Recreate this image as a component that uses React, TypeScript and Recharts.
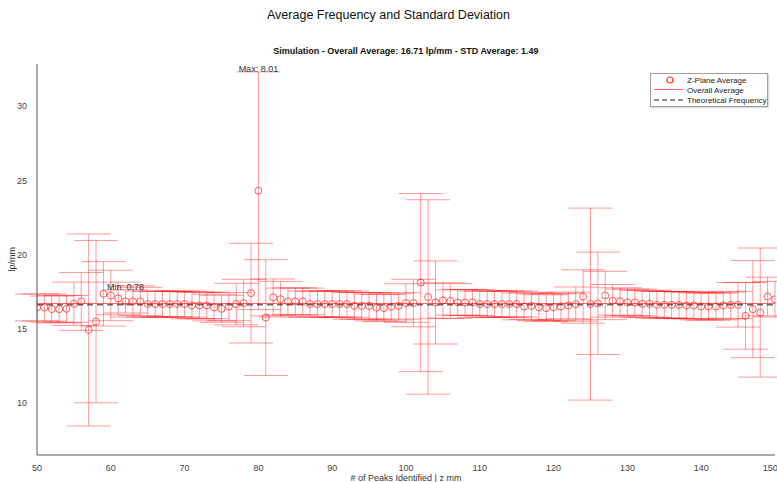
import React from 'react';
import {
  ComposedChart,
  Scatter,
  ErrorBar,
  XAxis,
  YAxis,
  ReferenceLine,
  ReferenceDot,
} from 'recharts';

// # of peaks identified (z position)
const peaks = [
  50, 51, 52, 53, 54, 55, 56, 57, 58, 59,
  60, 61, 62, 63, 64, 65, 66, 67, 68, 69,
  70, 71, 72, 73, 74, 75, 76, 77, 78, 79,
  80, 81, 82, 83, 84, 85, 86, 87, 88, 89,
  90, 91, 92, 93, 94, 95, 96, 97, 98, 99,
  100, 101, 102, 103, 104, 105, 106, 107, 108, 109,
  110, 111, 112, 113, 114, 115, 116, 117, 118, 119,
  120, 121, 122, 123, 124, 125, 126, 127, 128, 129,
  130, 131, 132, 133, 134, 135, 136, 137, 138, 139,
  140, 141, 142, 143, 144, 145, 146, 147, 148, 149,
  150,
];

// z-plane average frequency (lp/mm)
const zAverage = [
  16.44, 16.44, 16.33, 16.33, 16.35, 16.69, 16.85, 14.93, 15.49, 17.36,
  17.25, 17.05, 16.85, 16.85, 16.85, 16.67, 16.67, 16.67, 16.67, 16.67,
  16.67, 16.58, 16.58, 16.58, 16.44, 16.35, 16.5, 16.67, 16.74, 17.41,
  24.31, 15.76, 17.12, 17.0, 16.85, 16.85, 16.85, 16.67, 16.67, 16.67,
  16.67, 16.67, 16.67, 16.55, 16.55, 16.55, 16.44, 16.4, 16.5, 16.55,
  16.74, 16.74, 18.12, 17.15, 16.78, 16.91, 16.88, 16.78, 16.78, 16.78,
  16.67, 16.67, 16.67, 16.67, 16.67, 16.67, 16.51, 16.55, 16.46, 16.4,
  16.46, 16.51, 16.58, 16.67, 17.18, 16.67, 16.72, 17.25, 16.89, 16.85,
  16.78, 16.78, 16.69, 16.69, 16.62, 16.62, 16.62, 16.62, 16.58, 16.58,
  16.51, 16.51, 16.51, 16.58, 16.62, 16.62, 15.88, 16.33, 16.1, 17.18,
  17.0,
];

// standard deviation per z-plane
const zStd = [
  0.9, 0.92, 0.88, 0.93, 0.9, 1.46, 1.95, 6.47, 5.47, 2.17,
  1.7, 1.1, 0.78, 1.05, 0.95, 0.87, 0.88, 0.86, 0.87, 0.88,
  0.87, 0.9, 0.89, 0.9, 0.9, 0.91, 0.95, 1.4, 1.6, 3.36,
  8.01, 3.9, 1.24, 1.2, 0.9, 0.91, 0.9, 0.88, 0.87, 0.88,
  0.88, 0.89, 0.88, 0.9, 0.89, 0.9, 0.9, 0.91, 0.9, 0.89,
  1.3, 1.6, 6.0, 6.55, 2.8, 1.2, 1.17, 0.85, 0.88, 0.87,
  0.88, 0.88, 0.89, 0.88, 0.87, 0.88, 0.9, 0.91, 0.9, 0.9,
  0.91, 0.9, 0.9, 1.15, 1.8, 6.47, 3.45, 1.63, 1.1, 0.92,
  0.9, 0.9, 0.9, 0.91, 0.9, 0.9, 0.9, 0.91, 0.9, 0.9,
  0.91, 0.92, 0.9, 0.9, 0.91, 1.5, 2.25, 3.27, 4.35, 1.3,
  1.2,
];

const OVERALL_AVG = 16.71;
const STD_AVG = 1.49;
const THEORETICAL = 16.62;

const xTicks = [50, 60, 70, 80, 90, 100, 110, 120, 130, 140, 150];
const yTicks = [10, 15, 20, 25, 30];

const points = peaks.map((x, i) => ({ x, mean: zAverage[i], std: zStd[i] }));

const maxPt = points.reduce((a, b) => (b.std > a.std ? b : a));
const minPt = points.reduce((a, b) => (b.std < a.std ? b : a));

const FONT = '"Liberation Sans", Arial, Helvetica, sans-serif';
const RED = '#ff0000';

const Ring = (props: any) => (
  <circle cx={props.cx} cy={props.cy} r={3.5} fill="none" stroke={RED} strokeOpacity={0.7} strokeWidth={0.9} />
);

const LegendBox = () => (
  <div
    style={{
      position: 'absolute',
      left: 650,
      top: 73,
      width: 116,
      height: 32,
      border: '1px solid #a0a0a0',
      boxShadow: '1px 1px 1px rgba(0,0,0,0.15)',
      background: '#fff',
      fontFamily: FONT,
      fontSize: 8,
      color: '#222',
    }}
  >
    <svg width={116} height={32} style={{ position: 'absolute', left: 0, top: 0 }}>
      <circle cx={19} cy={6} r={3} fill="none" stroke={RED} strokeOpacity={0.8} strokeWidth={1.2} />
      <line x1={3} y1={15.5} x2={32} y2={15.5} stroke="#ff6060" />
      <line x1={3} y1={26} x2={32} y2={26} stroke="#222" strokeDasharray="5 3" />
      <text x={36} y={8.8} fontSize={8} fill="#222">Z-Plane Average</text>
      <text x={36} y={18.5} fontSize={8} fill="#222">Overall Average</text>
      <text x={36} y={28.8} fontSize={8} fill="#222">Theoretical Frequency</text>
    </svg>
  </div>
);

export default function App() {
  return (
    <div style={{ position: 'absolute', left: 0, top: 0, width: 777, height: 482, background: '#fff', fontFamily: FONT }}>
      <div style={{ position: 'absolute', left: 0, top: 8, width: 777, textAlign: 'center', fontSize: 12.5, color: '#111' }}>
        Average Frequency and Standard Deviation
      </div>
      <div
        style={{
          position: 'absolute',
          left: 37,
          top: 46,
          width: 738,
          textAlign: 'center',
          fontSize: 9,
          fontWeight: 'bold',
          color: '#111',
        }}
      >
        Simulation - Overall Average: {OVERALL_AVG.toFixed(2)} lp/mm - STD Average: {STD_AVG.toFixed(2)}
      </div>

      <ComposedChart
        width={777}
        height={482}
        margin={{ top: 64, right: 2, bottom: 0, left: 0 }}
        style={{ fontFamily: FONT }}
      >
        <XAxis
          type="number"
          dataKey="x"
          domain={[50, 150]}
          ticks={xTicks}
          allowDataOverflow
          height={27}
          stroke="#555"
          tickLine={false}
          tickMargin={4}
          tick={{ fill: '#444', fontSize: 9 }}
          label={{ value: '# of Peaks Identified | z mm', position: 'insideBottom', offset: 0, fontSize: 9, fill: '#333', dy: -1 }}
        />
        <YAxis
          type="number"
          dataKey="mean"
          domain={[6.5, 32.85]}
          ticks={yTicks}
          allowDataOverflow
          width={37}
          stroke="#555"
          tickLine={false}
          tickMargin={4}
          tick={{ fill: '#444', fontSize: 9 }}
          label={{ value: 'lp/mm', angle: -90, position: 'insideLeft', offset: 12, fontSize: 9, fill: '#333', dy: 12 }}
        />
        <Scatter data={points} dataKey="mean" shape={Ring} isAnimationActive={false}>
          <ErrorBar
            dataKey="std"
            direction="y"
            width={22}
            stroke={RED}
            strokeOpacity={0.4}
            strokeWidth={1}
            isAnimationActive={false}
          />
        </Scatter>
        <ReferenceLine y={OVERALL_AVG} stroke={RED} strokeOpacity={0.6} strokeWidth={1} />
        <ReferenceLine y={THEORETICAL} stroke="#222" strokeDasharray="6 4" strokeWidth={1} />
        <ReferenceDot
          x={maxPt.x}
          y={maxPt.mean + maxPt.std}
          r={0}
          fill="none"
          stroke="none"
          label={{ value: `Max: ${maxPt.std.toFixed(2)}`, position: 'top', offset: 0, fontSize: 9, fill: '#333' }}
        />
        <ReferenceDot
          x={minPt.x}
          y={minPt.mean + minPt.std}
          r={0}
          fill="none"
          stroke="none"
          label={{ value: `Min: ${minPt.std.toFixed(2)}`, position: 'top', offset: 0, fontSize: 9, fill: '#333' }}
        />
      </ComposedChart>

      <LegendBox />
    </div>
  );
}
